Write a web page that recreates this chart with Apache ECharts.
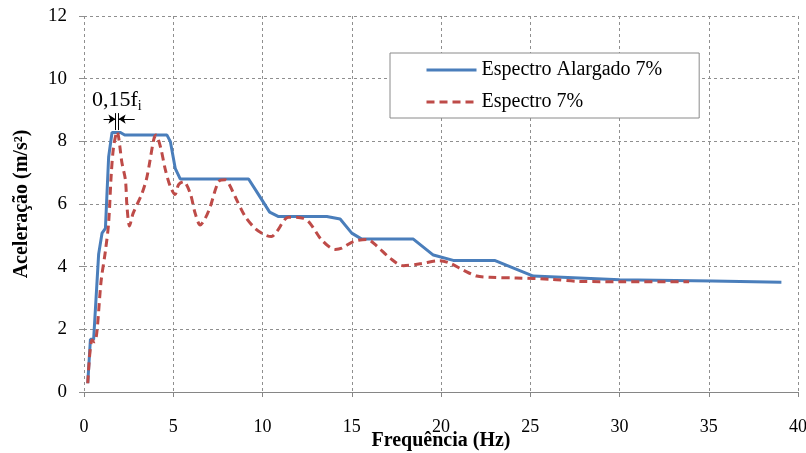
<!DOCTYPE html>
<html>
<head>
<meta charset="utf-8">
<script src="https://cdn.jsdelivr.net/npm/echarts@6/dist/echarts.min.js"></script>
<style>
html,body{margin:0;padding:0;background:#fff;}
#chart{width:806px;height:453px;}
</style>
</head>
<body>
<div id="chart"></div>
<script>
// Data
var alargadoFreq = [0.21,0.36,0.54,0.82,1.01,1.2,1.38,1.57,2.04,2.28,4.65,4.84,5.11,5.39,9.22,9.78,10.4,10.9,13.6,14.35,15.0,15.56,18.45,19.57,20.69,23.0,25.17,30.0,35.2,39.07];
var alargadoAcc  = [0.28,1.68,1.68,4.4,5.07,5.22,7.5,8.28,8.28,8.2,8.2,7.99,7.14,6.8,6.8,6.3,5.74,5.6,5.6,5.52,5.07,4.88,4.88,4.37,4.2,4.2,3.7,3.58,3.54,3.5];
var espectroFreq = [0.21,0.45,0.6,0.97,1.2,1.38,1.53,1.66,1.85,2.13,2.32,2.41,2.55,2.75,3.25,3.53,3.9,4.03,4.28,4.56,4.84,5.1,5.3,5.58,5.95,6.23,6.51,6.79,7.07,7.54,7.91,8.1,8.47,9.03,9.59,10.15,10.5,10.8,11.46,12.3,12.67,13.32,14.07,14.44,15.09,15.84,16.4,17.15,17.89,18.83,19.94,20.5,21.25,22.0,22.74,24.23,26.1,27.78,30.0,33.9];
var espectroAcc  = [0.28,1.66,1.6,3.6,4.5,5.4,6.98,7.83,8.31,7.3,6.77,5.91,5.3,5.7,6.34,6.87,8.04,8.2,7.83,7.09,6.55,6.3,6.62,6.71,6.34,5.7,5.33,5.54,5.91,6.71,6.77,6.66,6.23,5.6,5.22,5.01,4.96,5.12,5.58,5.54,5.38,4.85,4.55,4.59,4.8,4.87,4.66,4.27,4.03,4.09,4.19,4.11,3.89,3.7,3.66,3.64,3.6,3.53,3.52,3.52];
var seriesNames = ['Espectro Alargado 7%', 'Espectro 7%'];
var xTitle = 'Frequência (Hz)';
var yTitle = 'Aceleração (m/s²)';
// annotation "0,15 f_i" (data coordinates)
var annotText = '0,15f';
var annotSub = 'i';
var annotPos = [0.45, 9.29];
var arrowY = 8.71;
var markA = 1.76, markB = 1.94;
var arrowLeftStart = 1.1, arrowRightStart = 2.84;
var markYLow = 8.36, markYHigh = 8.9;

function zip(a, b) { return a.map(function (v, i) { return [v, b[i]]; }); }

var FONT = "'Liberation Serif','Times New Roman',serif";
var chart = echarts.init(document.getElementById('chart'), null, {renderer: 'canvas'});
var gridColor = '#8f8f8f';

chart.setOption({
  animation: false,
  backgroundColor: '#ffffff',
  grid: {left: 84, right: 8, top: 16, bottom: 61, containLabel: false, outerBoundsMode: 'none'},
  legend: {
    orient: 'vertical',
    left: 390, top: 53,
    backgroundColor: '#ffffff',
    borderColor: '#8a8a8a', borderWidth: 1,
    padding: [7, 37, 6, 35],
    itemWidth: 50, itemHeight: 14, itemGap: 12,
    itemStyle: {opacity: 0},
    lineStyle: {width: 3},
    textStyle: {fontFamily: FONT, fontSize: 20, color: '#000', lineHeight: 20},
    data: seriesNames
  },
  xAxis: {
    type: 'value', min: 0, max: 40, interval: 5,
    name: xTitle, nameLocation: 'middle', nameGap: 39, nameMoveOverlap: false,
    nameTextStyle: {fontFamily: FONT, fontSize: 20, fontWeight: 'bold', color: '#000'},
    axisLine: {show: true, onZero: false, lineStyle: {color: '#868686', width: 1}},
    axisTick: {show: true, length: 5, lineStyle: {color: '#868686'}},
    axisLabel: {fontFamily: FONT, fontSize: 18, color: '#000', margin: 26},
    splitLine: {show: true, lineStyle: {color: gridColor, type: [3, 3], width: 1}}
  },
  yAxis: {
    type: 'value', min: 0, max: 12, interval: 2,
    name: yTitle, nameLocation: 'middle', nameGap: 52, nameRotate: 90, nameMoveOverlap: false,
    nameTextStyle: {fontFamily: FONT, fontSize: 20, fontWeight: 'bold', color: '#000'},
    axisLine: {show: false},
    axisTick: {show: true, length: 5, lineStyle: {color: gridColor}},
    axisLabel: {fontFamily: FONT, fontSize: 19, color: '#000', margin: 17},
    splitLine: {show: true, lineStyle: {color: gridColor, type: [3, 3], width: 1}}
  },
  series: [
    {
      name: seriesNames[0], type: 'line', symbol: 'none', smooth: false,
      data: zip(alargadoFreq, alargadoAcc),
      lineStyle: {color: '#4A7EBB', width: 3},
      itemStyle: {color: '#4A7EBB'},
      z: 2
    },
    {
      name: seriesNames[1], type: 'line', symbol: 'none', smooth: 0.3,
      data: zip(espectroFreq, espectroAcc),
      lineStyle: {color: '#BE4B48', width: 3, type: [8, 5]},
      itemStyle: {color: '#BE4B48'},
      z: 3,
      markLine: {
        silent: true, symbolSize: 7, animation: false,
        lineStyle: {color: '#000', type: 'solid', width: 1},
        label: {show: false},
        data: [
          [{coord: [arrowLeftStart, arrowY], symbol: 'none'}, {coord: [markA, arrowY], symbol: 'arrow'}],
          [{coord: [arrowRightStart, arrowY], symbol: 'none'}, {coord: [markB, arrowY], symbol: 'arrow'}],
          [{coord: [markA, markYLow], symbol: 'none'}, {coord: [markA, markYHigh], symbol: 'none'}],
          [{coord: [markB, markYLow], symbol: 'none'}, {coord: [markB, markYHigh], symbol: 'none'}]
        ]
      },
      markPoint: {
        silent: true, symbol: 'circle', symbolSize: 0,
        data: [{coord: annotPos}],
        label: {
          show: true, position: 'right', distance: 0,
          formatter: '{a|' + annotText + '}{b|' + annotSub + '}',
          rich: {
            a: {fontFamily: FONT, fontSize: 22, color: '#000', verticalAlign: 'top', lineHeight: 24},
            b: {fontFamily: FONT, fontSize: 14, color: '#000', verticalAlign: 'bottom', lineHeight: 14, padding: [12, 0, 0, 0]}
          }
        }
      }
    }
  ]
});
</script>
</body>
</html>
